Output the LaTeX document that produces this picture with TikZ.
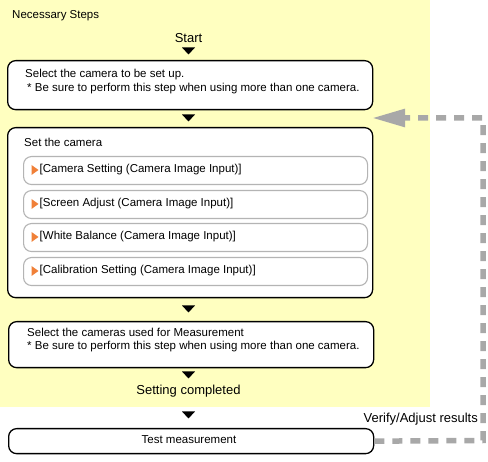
\documentclass[tikz,border=0pt]{standalone}
\usepackage{fontspec}
\setmainfont{Liberation Sans}
\usetikzlibrary{arrows.meta}
\definecolor{bgyellow}{RGB}{255,255,192}
\definecolor{dashgray}{RGB}{168,168,168}
\definecolor{subgray}{RGB}{180,180,180}
\definecolor{markorange}{RGB}{240,128,56}
\begin{document}
\begin{tikzpicture}[x=1pt,y=-1pt,
  stepbox/.style={draw=black, line width=1.3pt, rounded corners=8pt, fill=white,
    minimum width=365pt, anchor=north west, inner sep=0pt},
  subbox/.style={draw=subgray, line width=1.1pt, rounded corners=8pt, fill=white,
    minimum width=344pt, minimum height=28pt, anchor=north west, inner sep=0pt},
  lbl/.style={font=\fontsize{11.5}{14}\selectfont, inner sep=0pt},
  big/.style={font=\fontsize{13}{15}\selectfont, inner sep=0pt},
  lleft/.style={lbl, anchor=west},
  feedback/.style={draw=dashgray, line width=5.5pt, dash pattern=on 10pt off 8pt},
  downtri/.pic={\fill[black] (-6.5,-3.5) -- (6.5,-3.5) -- (0,3.5) -- cycle;},
  marktri/.pic={\fill[markorange] (-3.5,-5) -- (3.5,0) -- (-3.5,5) -- cycle;}
]
\useasboundingbox (0,0) rectangle (488,462);
\fill[bgyellow] (0,0) rectangle (430,407);

\node[lleft] (title) at (12,16) {Necessary Steps};
\node[big] (start) at (188.5,38) {Start};
\pic at (188.5,51) {downtri};

% step 1
\node[stepbox, minimum height=49pt] (s1) at (7,60) {};
\node[lleft] (s1a) at (25,75) {Select the camera to be set up.};
\node[lleft] (s1b) at (27,89) {* Be sure to perform this step when using more than one camera.};
\pic at (188.5,118) {downtri};

% step 2
\node[stepbox, minimum height=170pt] (s2) at (7,127) {};
\node[lleft] (s2t) at (24,142) {Set the camera};
\node[subbox] (c1) at (23,156) {};
\node[subbox] (c2) at (23,190) {};
\node[subbox] (c3) at (23,223) {};
\node[subbox] (c4) at (23,257) {};
\pic at (35,170) {marktri};
\pic at (35,204) {marktri};
\pic at (35,237) {marktri};
\pic at (35,271) {marktri};
\node[lleft] (c1t) at (39.5,170) {[Camera Setting (Camera Image Input)]};
\node[lleft] (c2t) at (39.5,204) {[Screen Adjust (Camera Image Input)]};
\node[lleft] (c3t) at (39.5,237) {[White Balance (Camera Image Input)]};
\node[lleft] (c4t) at (39.5,271) {[Calibration Setting (Camera Image Input)]};
\pic at (188.5,309) {downtri};

% step 3
\node[stepbox, minimum height=46pt] (s3) at (8,321) {};
\node[lleft] (s3a) at (27,332) {Select the cameras used for Measurement};
\node[lleft] (s3b) at (27,347) {* Be sure to perform this step when using more than one camera.};
\pic at (188.5,375) {downtri};
\node[big] (done) at (188.5,391) {Setting completed};
\pic at (188.5,415) {downtri};

% test
\node[stepbox, minimum height=25pt] (tm) at (8,428) {};
\node[lbl] (tmt) at (189,440) {Test measurement};

% feedback
\coordinate (fbend) at (372,118);
\node[big, anchor=east] (verify) at (478,419) {Verify/Adjust results};
\draw[feedback, -{Triangle[length=33pt,width=17pt]}] (tm.east) -- (483,440.5) -- (483,118) -- (fbend);
\end{tikzpicture}
\end{document}
